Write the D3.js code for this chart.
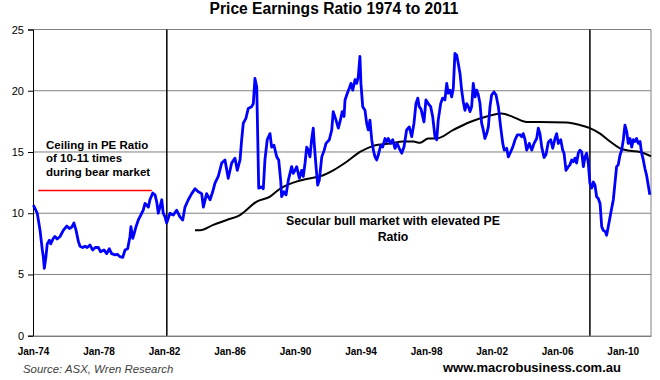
<!DOCTYPE html>
<html>
<head>
<meta charset="utf-8">
<script src="https://cdn.jsdelivr.net/npm/d3@7"></script>
<style>
  body { margin: 0; background: #fff; }
  text { font-family: Arial, "Liberation Sans", sans-serif; }
</style>
</head>
<body>
<div id="chart"></div>
<script>
// monthly-ish readings, decimal years
const peYears = [1974.02,1974.12,1974.26,1974.43,1974.57,1974.63,1974.69,1974.79,1974.87,1975.00,1975.08,1975.24,1975.34,1975.48,1975.65,1975.85,1976.06,1976.22,1976.36,1976.50,1976.63,1976.77,1976.87,1977.03,1977.17,1977.31,1977.48,1977.64,1977.80,1977.99,1978.13,1978.33,1978.50,1978.66,1978.80,1979.01,1979.15,1979.31,1979.48,1979.62,1979.78,1979.92,1979.98,1980.09,1980.18,1980.29,1980.43,1980.58,1980.73,1980.84,1980.94,1981.04,1981.14,1981.31,1981.45,1981.55,1981.65,1981.75,1981.86,1981.95,1982.06,1982.16,1982.36,1982.57,1982.77,1982.97,1983.14,1983.28,1983.48,1983.69,1983.89,1984.09,1984.30,1984.40,1984.60,1984.81,1984.97,1985.11,1985.31,1985.52,1985.72,1985.92,1986.13,1986.33,1986.47,1986.64,1986.74,1986.84,1987.00,1987.14,1987.35,1987.45,1987.55,1987.66,1987.72,1987.78,1987.96,1988.06,1988.16,1988.30,1988.47,1988.57,1988.71,1988.88,1989.00,1989.12,1989.18,1989.32,1989.45,1989.59,1989.79,1989.89,1990.00,1990.10,1990.26,1990.40,1990.50,1990.61,1990.71,1990.81,1990.91,1991.01,1991.11,1991.17,1991.28,1991.38,1991.48,1991.63,1991.78,1991.89,1992.09,1992.24,1992.33,1992.50,1992.64,1992.74,1992.88,1992.99,1993.05,1993.19,1993.31,1993.41,1993.52,1993.66,1993.76,1993.86,1993.96,1994.02,1994.13,1994.27,1994.37,1994.47,1994.57,1994.68,1994.78,1994.88,1994.98,1995.08,1995.23,1995.35,1995.49,1995.59,1995.69,1995.84,1995.96,1996.10,1996.24,1996.36,1996.51,1996.65,1996.81,1996.97,1997.12,1997.26,1997.38,1997.49,1997.58,1997.69,1997.87,1997.99,1998.13,1998.28,1998.40,1998.54,1998.65,1998.74,1998.89,1999.01,1999.15,1999.26,1999.35,1999.46,1999.56,1999.66,1999.76,1999.87,1999.96,2000.07,2000.17,2000.27,2000.37,2000.48,2000.58,2000.68,2000.78,2000.88,2000.99,2001.09,2001.19,2001.29,2001.39,2001.49,2001.59,2001.70,2001.80,2001.90,2002.00,2002.14,2002.27,2002.41,2002.55,2002.68,2002.77,2002.92,2003.02,2003.16,2003.29,2003.43,2003.57,2003.73,2003.84,2003.93,2004.04,2004.14,2004.30,2004.45,2004.59,2004.75,2004.85,2004.95,2005.06,2005.20,2005.32,2005.46,2005.61,2005.73,2005.87,2005.97,2006.07,2006.22,2006.34,2006.42,2006.54,2006.68,2006.78,2006.89,2006.99,2007.09,2007.19,2007.29,2007.39,2007.50,2007.60,2007.70,2007.80,2007.90,2008.00,2008.11,2008.21,2008.31,2008.41,2008.51,2008.62,2008.72,2008.82,2008.94,2009.02,2009.12,2009.23,2009.33,2009.43,2009.53,2009.63,2009.73,2009.84,2009.94,2010.04,2010.14,2010.25,2010.34,2010.45,2010.55,2010.65,2010.75,2010.85,2010.95,2011.06,2011.16,2011.26,2011.36,2011.46,2011.56,2011.66];
const peValues = [10.67,10.4,10.0,8.6,7.0,6.45,5.5,6.45,7.5,7.8,7.5,7.95,8.1,7.9,8.1,8.6,8.95,8.75,8.85,9.2,8.6,7.7,7.3,7.2,7.3,7.2,7.4,7.0,7.2,7.2,6.85,7.0,6.7,7.1,6.7,6.6,6.65,6.45,6.4,7.0,7.1,8.1,8.9,7.95,8.35,8.9,9.45,9.85,10.25,10.8,10.65,10.5,11.1,11.65,11.5,10.95,10.0,10.5,11.1,10.0,9.7,9.2,10.0,9.85,10.25,9.7,9.45,10.5,11.1,11.6,12.0,11.75,11.6,10.5,11.6,11.1,11.75,12.45,13.0,14.1,14.35,12.85,14.1,14.5,13.5,14.35,16.0,17.35,17.75,18.55,18.7,18.95,21.0,20.3,16.25,12.05,12.15,12.0,14.35,16.0,16.5,15.4,15.55,14.6,14.35,12.7,11.35,11.75,11.5,12.7,13.8,13.25,13.5,13.8,12.85,13.5,13.0,14.1,15.4,15.15,14.6,16.0,16.95,15.7,13.8,12.3,12.7,14.6,15.15,15.7,16.0,16.8,18.3,17.6,16.95,17.45,18.3,17.9,19.25,19.8,20.2,20.6,20.05,20.9,20.6,21.15,22.8,20.6,18.7,18.4,17.35,16.8,17.6,16.0,15.15,14.6,14.35,14.75,15.55,15.4,16.1,15.85,16.1,15.7,16.0,15.3,15.7,15.3,14.9,15.4,16.8,17.05,16.25,17.35,18.95,19.4,18.7,18.5,17.45,19.25,18.95,18.7,17.9,16.25,16.0,17.6,18.95,19.4,19.25,20.6,19.8,20.05,19.5,20.2,23.05,22.9,22.25,21.4,20.05,19.1,18.4,18.95,18.7,18.3,18.7,20.6,19.5,20.05,19.65,18.95,17.35,16.8,16.1,16.5,17.05,18.7,19.65,19.9,19.65,18.7,17.05,15.7,15.15,15.3,14.6,15.0,15.4,16.0,16.4,16.4,16.25,16.5,16.0,15.15,15.7,15.15,15.7,16.1,16.95,16.5,15.4,14.55,14.8,15.8,16.0,15.3,16.1,16.5,15.7,16.0,15.15,14.9,13.5,13.8,13.95,14.35,14.2,14.5,14.1,14.9,15.15,15.0,13.8,14.6,14.9,14.1,12.45,12.05,12.55,12.3,11.35,11.2,10.8,8.9,8.6,8.5,8.2,8.9,9.7,10.4,11.1,12.45,13.8,13.95,14.75,15.15,16.0,17.2,16.65,15.7,16.1,15.4,16.0,15.85,16.1,15.7,15.85,14.9,14.35,13.65,13.1,12.3,11.5];

// long-run average line
const avgYears = [1983.89,1984.20,1985.01,1985.83,1986.64,1987.66,1988.47,1989.08,1989.69,1990.71,1991.72,1992.33,1993.15,1993.96,1994.78,1995.80,1996.61,1997.22,1997.63,1998.13,1998.65,1999.66,2000.68,2001.70,2002.61,2003.32,2004.14,2004.95,2006.58,2007.39,2008.00,2008.62,2009.23,2009.84,2010.45,2011.06,2011.73];
const avgValues = [8.6,8.6,9.05,9.45,9.85,10.95,11.35,12.0,12.4,12.8,13.1,13.5,14.2,15.0,15.5,15.7,15.85,15.85,15.75,16.1,16.1,16.8,17.45,17.9,18.15,17.85,17.45,17.45,17.4,17.2,16.95,16.5,15.85,15.3,15.1,15.0,14.65];

const ceilingYears = [1974.32, 1981.25];
const ceilingValue = 11.85;
const markerYears = [1982.17, 2008.0];

const tickYears = [1974, 1978, 1982, 1986, 1990, 1994, 1998, 2002, 2006, 2010];
const tickLabels = ['Jan-74', 'Jan-78', 'Jan-82', 'Jan-86', 'Jan-90', 'Jan-94', 'Jan-98', 'Jan-02', 'Jan-06', 'Jan-10'];
const yTicks = [0, 5, 10, 15, 20, 25];

const width = 660, height = 380;
const plotLeft = 33, plotRight = 651, plotTop = 29.5, plotBottom = 335.7;

const svg = d3.select('#chart').append('svg')
  .attr('width', width).attr('height', height);

const x = d3.scaleLinear().domain([1974, 2011.73]).range([plotLeft, plotRight]);
const y = d3.scaleLinear().domain([0, 25]).range([plotBottom, plotTop]);

// title
svg.append('text')
  .attr('x', 334).attr('y', 13.5)
  .attr('text-anchor', 'middle')
  .style('font-size', '15.6px').style('font-weight', 'bold')
  .text('Price Earnings Ratio 1974 to 2011');

// gridlines
svg.append('g').selectAll('line').data(yTicks.slice(1)).enter().append('line')
  .attr('x1', plotLeft).attr('x2', plotRight)
  .attr('y1', d => y(d)).attr('y2', d => y(d))
  .attr('stroke', '#808080').attr('stroke-width', 1);

// right border
svg.append('line')
  .attr('x1', plotRight).attr('x2', plotRight).attr('y1', plotTop).attr('y2', plotBottom)
  .attr('stroke', '#808080');

// y axis
const yAxis = svg.append('g')
  .attr('transform', 'translate(' + plotLeft + ',0)')
  .call(d3.axisLeft(y).tickValues(yTicks).tickSize(5).tickPadding(4));
yAxis.select('.domain').attr('stroke', '#000');
yAxis.selectAll('text').style('font-size', '11px').style('font-family', 'Arial, "Liberation Sans", sans-serif').attr('fill', '#000');

// x axis
const xAxis = svg.append('g')
  .attr('transform', 'translate(0,' + plotBottom + ')')
  .call(d3.axisBottom(x).tickValues(tickYears).tickFormat((d, i) => tickLabels[i]).tickSize(0).tickPadding(12));
xAxis.select('.domain').attr('stroke', '#404040');
xAxis.selectAll('text').style('font-size', '10px').style('font-weight', 'bold')
  .style('font-family', 'Arial, "Liberation Sans", sans-serif').attr('fill', '#000');

// vertical markers
svg.append('g').selectAll('line').data(markerYears).enter().append('line')
  .attr('x1', d => x(d)).attr('x2', d => x(d))
  .attr('y1', plotTop).attr('y2', plotBottom)
  .attr('stroke', '#000').attr('stroke-width', 1.5);

// ceiling line
svg.append('line')
  .attr('x1', x(ceilingYears[0])).attr('x2', x(ceilingYears[1]))
  .attr('y1', y(ceilingValue)).attr('y2', y(ceilingValue))
  .attr('stroke', '#ff0000').attr('stroke-width', 1.5);

// average line
const avgLine = d3.line().x(d => x(d[0])).y(d => y(d[1])).curve(d3.curveMonotoneX);
svg.append('path')
  .datum(d3.zip(avgYears, avgValues))
  .attr('d', avgLine)
  .attr('fill', 'none').attr('stroke', '#000').attr('stroke-width', 2);

// PE line
const peLine = d3.line().x(d => x(d[0])).y(d => y(d[1]));
svg.append('path')
  .datum(d3.zip(peYears, peValues))
  .attr('d', peLine)
  .attr('fill', 'none').attr('stroke', '#0000ff')
  .attr('stroke-width', 2.8).attr('stroke-linejoin', 'round');

// annotations
const note = svg.append('text')
  .style('font-size', '11.5px').style('font-weight', 'bold');
['Ceiling in PE Ratio', 'of 10-11 times', 'during bear market'].forEach((t, i) => {
  note.append('tspan').attr('x', 46).attr('y', 148.5 + i * 13.5).text(t);
});

const bull = svg.append('text')
  .attr('text-anchor', 'middle')
  .style('font-size', '12.3px').style('font-weight', 'bold');
['Secular bull market with elevated PE', 'Ratio'].forEach((t, i) => {
  bull.append('tspan').attr('x', 393).attr('y', 224.5 + i * 16).text(t);
});

// footer
svg.append('text')
  .attr('x', 23).attr('y', 372.5)
  .style('font-size', '11.4px').style('font-style', 'italic')
  .attr('fill', '#404040')
  .text('Source: ASX, Wren Research');

svg.append('text')
  .attr('x', 443).attr('y', 371.5)
  .style('font-size', '13px').style('font-weight', 'bold')
  .text('www.macrobusiness.com.au');
</script>
</body>
</html>
